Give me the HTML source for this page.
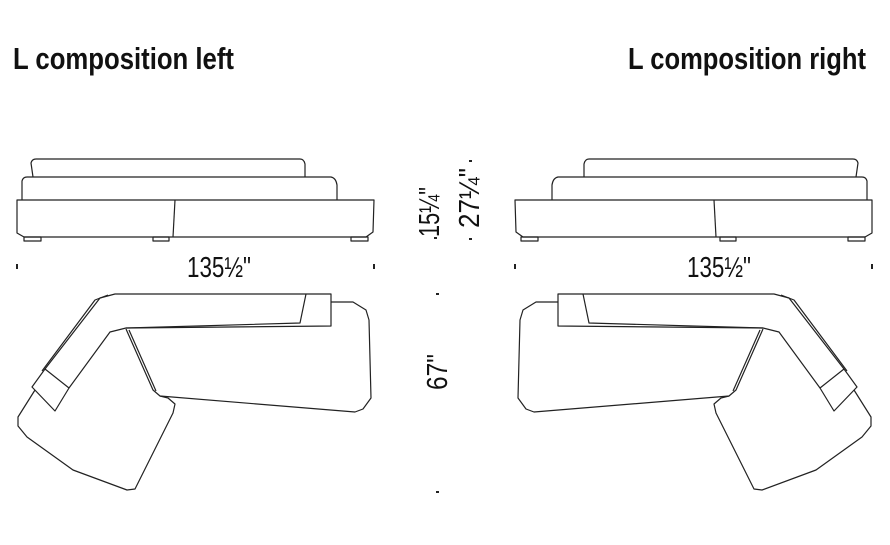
<!DOCTYPE html>
<html><head><style>
html,body{margin:0;padding:0;background:#fff;}
svg{display:block}
</style></head><body>
<svg width="890" height="545" viewBox="0 0 890 545" xmlns="http://www.w3.org/2000/svg" font-family="Liberation Sans, sans-serif">
<text x="13" y="69" font-size="31" font-weight="bold" textLength="221" lengthAdjust="spacingAndGlyphs" fill="#111">L composition left</text>
<text x="628" y="69" font-size="31" font-weight="bold" textLength="238" lengthAdjust="spacingAndGlyphs" fill="#111">L composition right</text>

<defs>
<g id="half" fill="none" stroke="#222" stroke-width="1.2" stroke-linejoin="round">
  <path d="M33,177 L31,163 Q32,159 36,159 L300,159 Q304,159 305,164 L305,177"/>
  <path d="M22,200 L22,181 Q23,177 27,177 L331,177 Q336,178 337,185 L337,200"/>
  <path d="M17,200 L374,200 L373,232 L366,237 L24,237 L17,233 Z"/>
  <path d="M175,200 L173,237"/>
  <rect x="24" y="237" width="17" height="4"/>
  <rect x="153" y="237" width="16" height="4"/>
  <rect x="351" y="237" width="17" height="4"/>
  <path d="M45,369 L100,298 L115,294 L331,294 L331,326 L126,328 L110,332 L69,388"/>
  <path d="M42,371 L95,300 L108,295"/>
  <path d="M306,294 L300,323 L126,328"/>
  <path d="M45,369 L32,387 L55,411 L69,388 Z"/>
  <path d="M331,302 L353,302 L366,310 L369,320 L371,398 L363,409 L355,412 L160,396 L153,390 L126,329"/>
  <path d="M129,330 L156,391"/>
  <path d="M35,390 L18,417 L18,426 L27,437 L73,470 L127,490 L135,489 L173,413 L175,404 L168,398 L160,396"/>
  <rect x="16" y="264" width="2" height="5" fill="#222" stroke="none"/>
  <rect x="373" y="264" width="2" height="5" fill="#222" stroke="none"/>
</g>
</defs>
<use href="#half"/>
<use href="#half" transform="translate(889,0) scale(-1,1)"/>

<text x="219" y="277" font-size="29" text-anchor="middle" textLength="64" lengthAdjust="spacingAndGlyphs" fill="#111">135½"</text>
<text x="719" y="277" font-size="29" text-anchor="middle" textLength="64" lengthAdjust="spacingAndGlyphs" fill="#111">135½"</text>

<text transform="translate(439,212) rotate(-90)" font-size="29" text-anchor="middle" textLength="50" lengthAdjust="spacingAndGlyphs" fill="#111">15¼"</text>
<text transform="translate(479,198) rotate(-90)" font-size="29" text-anchor="middle" textLength="60" lengthAdjust="spacingAndGlyphs" fill="#111">27¼"</text>
<text transform="translate(447,372) rotate(-90)" font-size="29" text-anchor="middle" textLength="36" lengthAdjust="spacingAndGlyphs" fill="#111">67"</text>

<g fill="#222">
<rect x="434" y="237" width="3" height="2"/>
<rect x="469" y="160" width="3" height="2"/>
<rect x="469" y="238" width="3" height="2"/>
<rect x="436" y="293" width="3" height="2"/>
<rect x="436" y="491" width="3" height="2"/>
</g>
</svg>
</body></html>
